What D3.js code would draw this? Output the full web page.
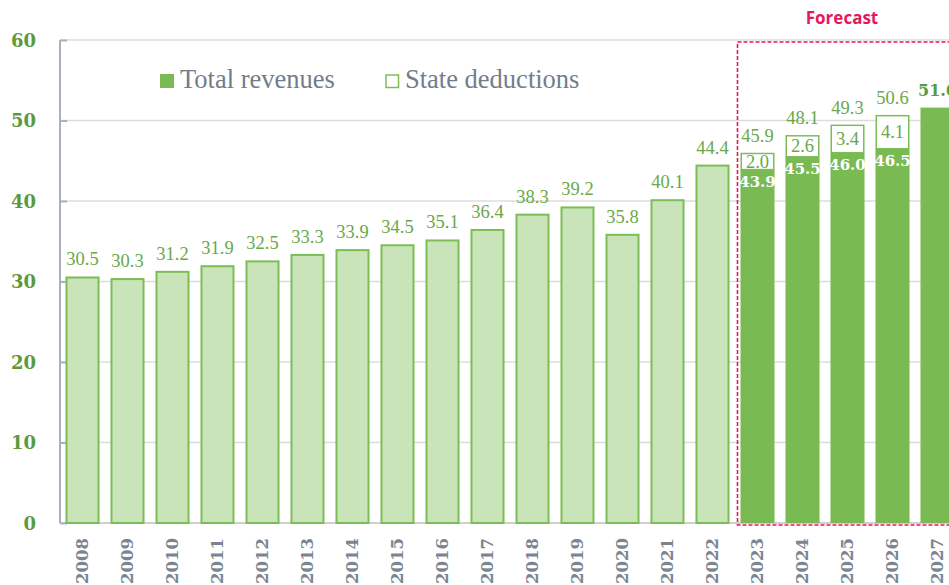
<!DOCTYPE html>
<html>
<head>
<meta charset="utf-8">
<title>Revenues</title>
<script src="https://cdn.jsdelivr.net/npm/d3@7"></script>
<style>
    body { margin: 0; background: #fff; overflow: hidden; }
    svg { display: block; }
    .grid line { stroke: #dcdcdc; stroke-width: 1.5; }
    .ytick text { font-family: "DejaVu Serif", serif; font-weight: bold; font-size: 18px; fill: #5c9a3c; }
    .xtick text { font-family: "DejaVu Serif", serif; font-weight: bold; font-size: 16.5px; fill: #7b8591; }
    .val { font-family: "Liberation Serif", serif; font-size: 18.5px; fill: #6aa84a; }
    .inner { font-family: "DejaVu Serif", serif; font-weight: bold; font-size: 15px; fill: #fff; }
    .legend text { font-family: "Liberation Serif", serif; font-size: 26.5px; fill: #737d8a; }
</style>
</head>
<body>
<svg width="949" height="585"></svg>
<script>
    // data
    var years = ["2008","2009","2010","2011","2012","2013","2014","2015","2016","2017",
                 "2018","2019","2020","2021","2022","2023","2024","2025","2026","2027"];
    var totals = [30.5,30.3,31.2,31.9,32.5,33.3,33.9,34.5,35.1,36.4,
                  38.3,39.2,35.8,40.1,44.4,45.9,48.1,49.3,50.6,51.6];
    var forecastYears = ["2023","2024","2025","2026","2027"];
    var forecastNet = [43.9,45.5,46.0,46.5,51.6];
    var deductions = [2.0,2.6,3.4,4.1,0];
    var yTicks = [0,10,20,30,40,50,60];

    var lightFill = "#c9e4b8", green = "#7dbd57", darkFill = "#7aba53", red = "#e8175d";

    var svg = d3.select("svg");
    var mLeft = 60, mBottom = 523, mTop = 40;

    var x = d3.scaleBand().domain(years).range([mLeft, mLeft + 45 * years.length])
        .paddingInner(0.244).paddingOuter(0.122);
    var y = d3.scaleLinear().domain([0, 60]).range([mBottom, mTop]);

    // gridlines
    svg.append("g").attr("class", "grid")
        .selectAll("line").data(yTicks.filter(function (d) { return d > 0; }))
        .enter().append("line")
        .attr("x1", mLeft).attr("x2", 949)
        .attr("y1", function (d) { return y(d); }).attr("y2", function (d) { return y(d); });

    // bottom axis line
    svg.append("line").attr("x1", mLeft).attr("x2", 949)
        .attr("y1", mBottom).attr("y2", mBottom)
        .attr("stroke", "#d0d0d0").attr("stroke-width", 2);

    // y axis
    var yAxis = svg.append("g").attr("class", "ytick")
        .attr("transform", "translate(" + mLeft + ",0)")
        .call(d3.axisRight(y).tickValues(yTicks).tickSize(7).tickFormat(d3.format("d")));
    yAxis.select(".domain").attr("stroke", "#a9b1bf").attr("stroke-width", 2)
        .attr("d", "M0," + y(60) + "V" + mBottom);
    yAxis.selectAll(".tick line").attr("stroke", "#a9b1bf").attr("stroke-width", 2);
    yAxis.selectAll(".tick text").attr("x", -24).attr("text-anchor", "end").attr("dy", "0.36em");

    // x axis labels
    var xAxis = svg.append("g").attr("class", "xtick")
        .attr("transform", "translate(0," + mBottom + ")")
        .call(d3.axisBottom(x).tickSize(0));
    xAxis.select(".domain").remove();
    xAxis.selectAll(".tick text")
        .attr("transform", "rotate(-90)")
        .attr("text-anchor", "end")
        .attr("x", -15).attr("y", 0).attr("dy", "0.36em");

    // historical bars
    var hist = years.map(function (d, i) { return { year: d, v: totals[i] }; })
        .filter(function (d) { return forecastYears.indexOf(d.year) < 0; });

    svg.append("g").selectAll("rect").data(hist).enter().append("rect")
        .attr("x", function (d) { return x(d.year) + 1; })
        .attr("width", x.bandwidth() - 2)
        .attr("y", function (d) { return y(d.v); })
        .attr("height", function (d) { return mBottom - y(d.v); })
        .attr("fill", lightFill).attr("stroke", green).attr("stroke-width", 2);

    // forecast bars
    var fc = forecastYears.map(function (d, i) {
        return { year: d, net: forecastNet[i], ded: deductions[i], total: totals[years.indexOf(d)] };
    });

    svg.append("g").selectAll("rect").data(fc).enter().append("rect")
        .attr("x", function (d) { return x(d.year); })
        .attr("width", x.bandwidth())
        .attr("y", function (d) { return y(d.net); })
        .attr("height", function (d) { return mBottom - y(d.net); })
        .attr("fill", darkFill);

    var dedBars = fc.filter(function (d) { return d.ded > 0; });
    svg.append("g").selectAll("rect").data(dedBars).enter().append("rect")
        .attr("x", function (d) { return x(d.year) + 0.75; })
        .attr("width", x.bandwidth() - 1.5)
        .attr("y", function (d) { return y(d.net + d.ded); })
        .attr("height", function (d) { return y(d.net) - y(d.net + d.ded); })
        .attr("fill", "#fff").attr("stroke", green).attr("stroke-width", 1.5);

    svg.append("g").selectAll("text").data(dedBars).enter().append("text")
        .attr("class", "val")
        .attr("text-anchor", "middle")
        .attr("x", function (d) { return x(d.year) + x.bandwidth() / 2; })
        .attr("y", function (d) { return (y(d.net) + y(d.net + d.ded)) / 2 + 6; })
        .text(function (d) { return d.ded.toFixed(1); });

    svg.append("g").selectAll("text").data(dedBars).enter().append("text")
        .attr("class", "inner")
        .attr("text-anchor", "middle")
        .attr("x", function (d) { return x(d.year) + x.bandwidth() / 2; })
        .attr("y", function (d) { return y(d.net) + 17; })
        .text(function (d) { return d.net.toFixed(1); });

    // total labels
    svg.append("g").selectAll("text").data(years).enter().append("text")
        .attr("class", function (d) { return d === "2027" ? "inner" : "val"; })
        .style("fill", function (d) { return d === "2027" ? "#5c9a3c" : null; })
        .style("font-size", function (d) { return d === "2027" ? "16px" : null; })
        .attr("text-anchor", "middle")
        .attr("x", function (d) { return x(d) + x.bandwidth() / 2; })
        .attr("y", function (d, i) { return y(totals[i]) - 12; })
        .text(function (d, i) { return totals[i].toFixed(1); });

    // forecast frame
    svg.append("rect")
        .attr("x", x("2023") - 3).attr("y", 42)
        .attr("width", 300).attr("height", mBottom + 2 - 42)
        .attr("fill", "none").attr("stroke", red).attr("stroke-width", 1.6)
        .attr("stroke-dasharray", "4,2");

    svg.append("text")
        .attr("x", 842).attr("y", 24)
        .attr("text-anchor", "middle")
        .style("font-family", "'Open Sans', sans-serif").style("font-weight", "bold")
        .style("font-size", "17px").style("fill", red)
        .text("Forecast");

    // legend
    var legend = svg.append("g").attr("class", "legend");
    legend.append("rect").attr("x", 160).attr("y", 74).attr("width", 14).attr("height", 14)
        .attr("fill", darkFill);
    legend.append("text").attr("x", 180).attr("y", 88).text("Total revenues");
    legend.append("rect").attr("x", 386).attr("y", 75).attr("width", 12.5).attr("height", 12.5)
        .attr("fill", "#fff").attr("stroke", green).attr("stroke-width", 1.5);
    legend.append("text").attr("x", 405).attr("y", 88).text("State deductions");
</script>
</body>
</html>
